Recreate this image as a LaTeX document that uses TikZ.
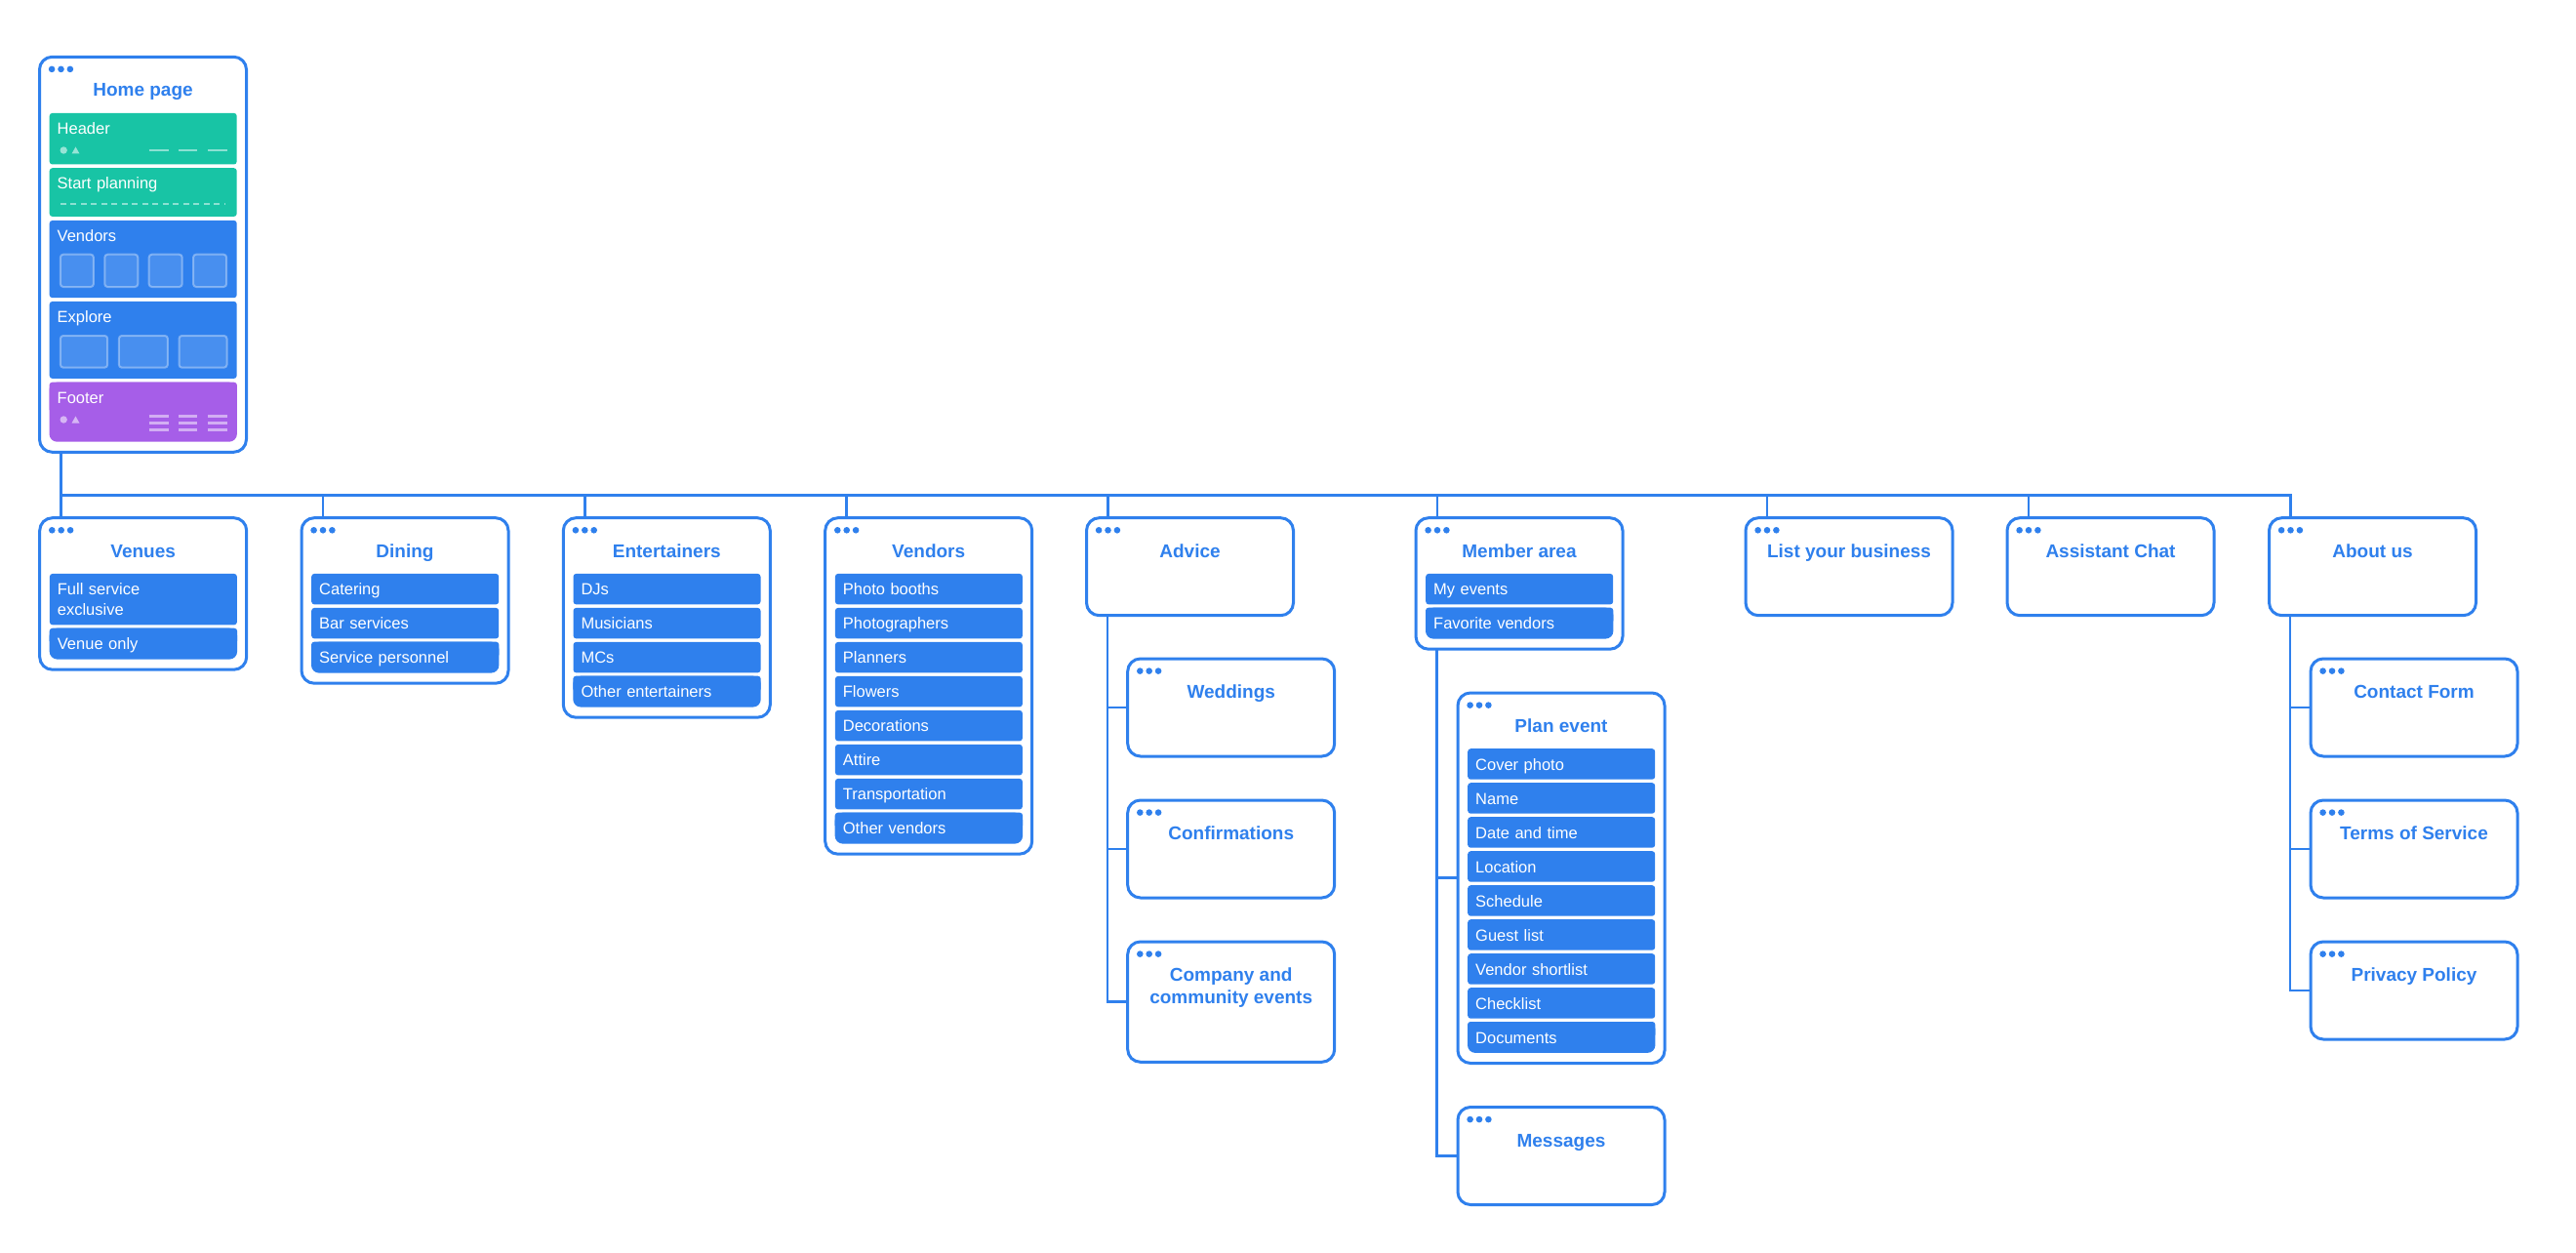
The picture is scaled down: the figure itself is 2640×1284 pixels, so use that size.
\documentclass[tikz,border=0pt]{standalone}
\usepackage{fontspec}
\setmainfont{Liberation Sans}
\usepackage{xcolor}
\usepackage{tikz}
\usetikzlibrary{backgrounds}

\definecolor{siteblue}{HTML}{2F80ED}
\definecolor{siteteal}{HTML}{18C4A5}
\definecolor{sitepurple}{HTML}{A65EE8}

\tikzset{
  pagebox/.style={draw=siteblue, line width=3pt, rounded corners=13pt, anchor=north west,
    minimum width=212pt, inner sep=0pt, outer sep=0pt},
  boxtitle/.style={anchor=base, text=siteblue, font=\fontsize{19}{23.3}\selectfont\bfseries,
    align=center, inner sep=0pt},
  entry/.style={anchor=north west, fill=siteblue, rounded corners=3pt, text=white,
    font=\fontsize{16.5}{21}\selectfont, text width=176pt, align=left,
    inner xsep=8pt, inner ysep=0pt, text height=22pt, text depth=9.5pt},
  lastentry/.style={entry, fill=none},
  homepart/.style={entry, text height=21.5pt},
  wire/.style={draw=siteblue, line width=2.8pt},
  decoline/.style={draw=white, draw opacity=0.5, line width=2.5pt},
  decofill/.style={fill=white, fill opacity=0.55},
  tile/.style={fill=white, fill opacity=0.12, draw=white, draw opacity=0.35,
    line width=2pt, rounded corners=3pt},
}

\newcommand\windowdots{\fill[siteblue] (12.6,12.6) circle[radius=3.3pt]
  (22,12.6) circle[radius=3.3pt] (31.4,12.6) circle[radius=3.3pt];}
\newcommand\lastfill[2][siteblue]{\begin{scope}[on background layer]
  \fill[#1, rounded corners=8pt] (#2.north west) rectangle (#2.south east);
  \fill[#1, rounded corners=3pt] (#2.north west) rectangle (#2.east);
\end{scope}}

\begin{document}
\begin{tikzpicture}[x=1pt, y=-1pt]

\useasboundingbox (0,0) rectangle (2640,1284);
\begin{scope}[on background layer]
\fill[white] (0,0) rectangle (2640,1284);
\end{scope}

\begin{scope}[shift={(40.5,58.3)}]
\node[pagebox, minimum height=405pt] (home) at (0,0) {};
\windowdots
\node[boxtitle] (home-t) at (106,40.5) {Home page};
\node[homepart, fill=siteteal, text depth=31.1pt] (header) at (10,57.4) {Header};
\node[homepart, fill=siteteal, text depth=28.2pt] (start) at (10,113.7) {Start planning};
\node[homepart, text depth=57.8pt] (hvendors) at (10,167.4) {Vendors};
\node[homepart, text depth=57.5pt] (explore) at (10,250.4) {Explore};
\node[homepart, fill=none, text depth=39.1pt] (footer) at (10,333.4) {Footer};
\lastfill[sitepurple]{footer}

\fill[decofill] (24.7,95.7) circle[radius=3.7pt];
\fill[decofill] (33,99.2) -- (41,99.2) -- (37,92.2) -- cycle;
\draw[decoline] (112,95.7) -- (132,95.7) (142.7,95.7) -- (161.4,95.7) (172.4,95.7) -- (192,95.7);

\draw[decoline, dash pattern=on 6pt off 4.5pt] (21.4,150.7) -- (189.7,150.7);

\draw[tile]
(21.4,202.4) rectangle ++(34,33.3)
(66.8,202.4) rectangle ++(34,33.3)
(112.2,202.4) rectangle ++(34,33.3)
(157.6,202.4) rectangle ++(34,33.3);

\draw[tile]
(21.4,285.7) rectangle ++(48.3,32.7)
(81.4,285.7) rectangle ++(50,32.7)
(143,285.7) rectangle ++(49,32.7);

\fill[decofill] (24.7,371.7) circle[radius=3.7pt];
\fill[decofill] (33,375.2) -- (41,375.2) -- (37,368.2) -- cycle;
\draw[decoline]
(112,368.4) -- (132,368.4) (112,375.4) -- (132,375.4) (112,382.4) -- (132,382.4)
(142.7,368.4) -- (161.4,368.4) (142.7,375.4) -- (161.4,375.4) (142.7,382.4) -- (161.4,382.4)
(172.4,368.4) -- (192,368.4) (172.4,375.4) -- (192,375.4) (172.4,382.4) -- (192,382.4);
\end{scope}


\begin{scope}[shift={(40.7,530.7)}]
\node[pagebox, minimum height=155.5pt] (venues) at (0,0) {};
\windowdots
\node[boxtitle] (venues-t) at (106,40.5) {Venues};
\path (10,57) node[entry, text depth=30.5pt] (ven1) {Full service\\exclusive}
  ++(0,56) node[lastentry] (ven2) {Venue only};
\lastfill{ven2}
\end{scope}

\begin{scope}[shift={(309,530.7)}]
\node[pagebox, minimum height=169.5pt] (dining) at (0,0) {};
\windowdots
\node[boxtitle] (dining-t) at (106,40.5) {Dining};
\path (10,57) node[entry] (din1) {Catering}
  ++(0,35) node[entry] (din2) {Bar services}
  ++(0,35) node[lastentry] (din3) {Service personnel};
\lastfill{din3}
\end{scope}

\begin{scope}[shift={(577.3,530.7)}]
\node[pagebox, minimum height=204.5pt] (entert) at (0,0) {};
\windowdots
\node[boxtitle] (entert-t) at (106,40.5) {Entertainers};
\path (10,57) node[entry] (ent1) {DJs}
  ++(0,35) node[entry] (ent2) {Musicians}
  ++(0,35) node[entry] (ent3) {MCs}
  ++(0,35) node[lastentry] (ent4) {Other entertainers};
\lastfill{ent4}
\end{scope}

\begin{scope}[shift={(845.7,530.7)}]
\node[pagebox, minimum height=344.5pt] (vendors) at (0,0) {};
\windowdots
\node[boxtitle] (vendors-t) at (106,40.5) {Vendors};
\path (10,57) node[entry] (vnd1) {Photo booths}
  ++(0,35) node[entry] (vnd2) {Photographers}
  ++(0,35) node[entry] (vnd3) {Planners}
  ++(0,35) node[entry] (vnd4) {Flowers}
  ++(0,35) node[entry] (vnd5) {Decorations}
  ++(0,35) node[entry] (vnd6) {Attire}
  ++(0,35) node[entry] (vnd7) {Transportation}
  ++(0,35) node[lastentry] (vnd8) {Other vendors};
\lastfill{vnd8}
\end{scope}

\begin{scope}[shift={(1113.5,530.7)}]
\node[pagebox, minimum height=100pt] (advice) at (0,0) {};
\windowdots
\node[boxtitle] (advice-t) at (106,40.5) {Advice};
\end{scope}

\begin{scope}[shift={(1155.7,675)}]
\node[pagebox, minimum height=100pt] (weddings) at (0,0) {};
\windowdots
\node[boxtitle] (weddings-t) at (106,40.5) {Weddings};
\end{scope}

\begin{scope}[shift={(1155.7,820)}]
\node[pagebox, minimum height=100pt] (confirm) at (0,0) {};
\windowdots
\node[boxtitle] (confirm-t) at (106,40.5) {Confirmations};
\end{scope}

\begin{scope}[shift={(1155.7,965)}]
\node[pagebox, minimum height=123.3pt] (company) at (0,0) {};
\windowdots
\node[boxtitle] (company-t) at (106,63.8) {Company and\\community events};
\end{scope}

\begin{scope}[shift={(1451,530.7)}]
\node[pagebox, minimum height=134.5pt] (member) at (0,0) {};
\windowdots
\node[boxtitle] (member-t) at (106,40.5) {Member area};
\path (10,57) node[entry] (mem1) {My events}
  ++(0,35) node[lastentry] (mem2) {Favorite vendors};
\lastfill{mem2}
\end{scope}

\begin{scope}[shift={(1494,710)}]
\node[pagebox, minimum height=379.5pt] (planevent) at (0,0) {};
\windowdots
\node[boxtitle] (planevent-t) at (106,40.5) {Plan event};
\path (10,57) node[entry] (pln1) {Cover photo}
  ++(0,35) node[entry] (pln2) {Name}
  ++(0,35) node[entry] (pln3) {Date and time}
  ++(0,35) node[entry] (pln4) {Location}
  ++(0,35) node[entry] (pln5) {Schedule}
  ++(0,35) node[entry] (pln6) {Guest list}
  ++(0,35) node[entry] (pln7) {Vendor shortlist}
  ++(0,35) node[entry] (pln8) {Checklist}
  ++(0,35) node[lastentry] (pln9) {Documents};
\lastfill{pln9}
\end{scope}

\begin{scope}[shift={(1494,1134.5)}]
\node[pagebox, minimum height=100pt] (messages) at (0,0) {};
\windowdots
\node[boxtitle] (messages-t) at (106,40.5) {Messages};
\end{scope}

\begin{scope}[shift={(1789,530.7)}]
\node[pagebox, minimum height=100pt] (listbiz) at (0,0) {};
\windowdots
\node[boxtitle] (listbiz-t) at (106,40.5) {List your business};
\end{scope}

\begin{scope}[shift={(2057,530.7)}]
\node[pagebox, minimum height=100pt] (assist) at (0,0) {};
\windowdots
\node[boxtitle] (assist-t) at (106,40.5) {Assistant Chat};
\end{scope}

\begin{scope}[shift={(2325.5,530.7)}]
\node[pagebox, minimum height=100pt] (about) at (0,0) {};
\windowdots
\node[boxtitle] (about-t) at (106,40.5) {About us};
\end{scope}

\begin{scope}[shift={(2368,675)}]
\node[pagebox, minimum height=100pt] (contact) at (0,0) {};
\windowdots
\node[boxtitle] (contact-t) at (106,40.5) {Contact Form};
\end{scope}

\begin{scope}[shift={(2368,820)}]
\node[pagebox, minimum height=100pt] (terms) at (0,0) {};
\windowdots
\node[boxtitle] (terms-t) at (106,40.5) {Terms of Service};
\end{scope}

\begin{scope}[shift={(2368,965)}]
\node[pagebox, minimum height=100pt] (privacy) at (0,0) {};
\windowdots
\node[boxtitle] (privacy-t) at (106,40.5) {Privacy Policy};
\end{scope}


\draw[wire] ([xshift=22pt]home.south west) -- ++(0,44) -| ([xshift=22pt]venues.north west);
\draw[wire] ([xshift=22pt]home.south west) -- ++(0,44) -| ([xshift=22pt]dining.north west);
\draw[wire] ([xshift=22pt]home.south west) -- ++(0,44) -| ([xshift=22pt]entert.north west);
\draw[wire] ([xshift=22pt]home.south west) -- ++(0,44) -| ([xshift=22pt]vendors.north west);
\draw[wire] ([xshift=22pt]home.south west) -- ++(0,44) -| ([xshift=22pt]advice.north west);
\draw[wire] ([xshift=22pt]home.south west) -- ++(0,44) -| ([xshift=22pt]member.north west);
\draw[wire] ([xshift=22pt]home.south west) -- ++(0,44) -| ([xshift=22pt]listbiz.north west);
\draw[wire] ([xshift=22pt]home.south west) -- ++(0,44) -| ([xshift=22pt]assist.north west);
\draw[wire] ([xshift=22pt]home.south west) -- ++(0,44) -| ([xshift=22pt]about.north west);

\draw[wire] ([xshift=21.5pt]advice.south west) |- (weddings.west);
\draw[wire] ([xshift=21.5pt]advice.south west) |- (confirm.west);
\draw[wire] ([xshift=21.5pt]advice.south west) |- (company.west);

\draw[wire] ([xshift=21.5pt]member.south west) |- (planevent.west);
\draw[wire] ([xshift=21.5pt]member.south west) |- (messages.west);

\draw[wire] ([xshift=21.5pt]about.south west) |- (contact.west);
\draw[wire] ([xshift=21.5pt]about.south west) |- (terms.west);
\draw[wire] ([xshift=21.5pt]about.south west) |- (privacy.west);

\end{tikzpicture}
\end{document}
